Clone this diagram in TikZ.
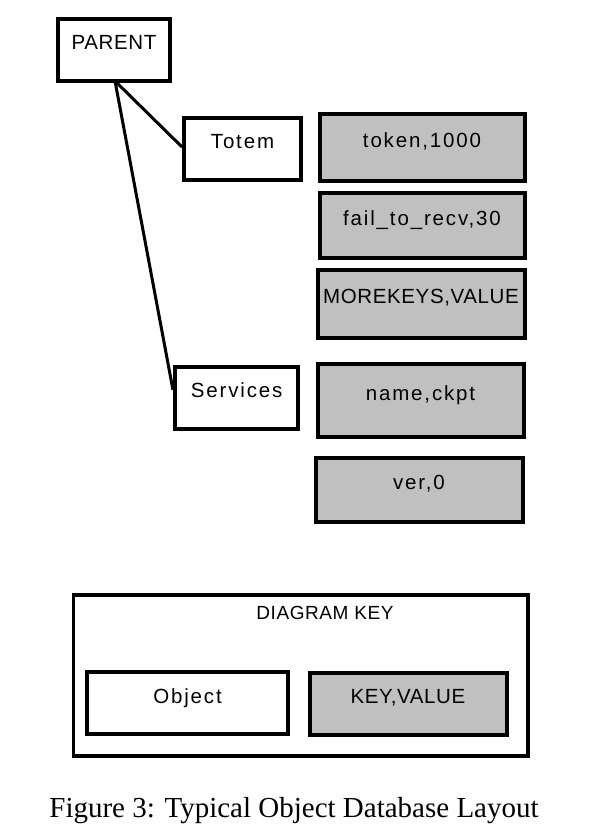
\documentclass[tikz,border=0pt]{standalone}
\usepackage{fontspec}
\setmainfont{Liberation Serif}
\newfontfamily\boxfont[LetterSpace=3]{Liberation Sans}
\newfontfamily\boxfontw[LetterSpace=9]{Liberation Sans}
\definecolor{kvgray}{HTML}{C0C0C0}
\tikzset{
  obj/.style={draw=black, line width=4pt, fill=white, rectangle, inner sep=0pt,
    text height=10pt, text depth=10pt, font=\fontsize{20.5}{22}\selectfont},
  kv/.style={obj, fill=kvgray},
  conn/.style={draw=black, line width=3pt},
}
\begin{document}
\begin{tikzpicture}[x=1pt,y=-1pt]
\useasboundingbox (0,0) rectangle (595,840);
\node[obj, minimum width=112pt, minimum height=62pt] (parent) at (114,50) {\boxfont PARENT};
\node[obj, minimum width=117pt, minimum height=62pt] (totem) at (242.5,149) {\boxfontw Totem};
\node[obj, minimum width=123.5pt, minimum height=61.5pt] (services) at (236.7,397.8) {\boxfontw Services};
\node[kv, minimum width=205pt, minimum height=67pt] (token) at (422,147.5) {\boxfontw token,1000};
\node[kv, minimum width=205pt, minimum height=65pt] (fail) at (422,225) {\boxfontw fail\_to\_recv,30};
\node[kv, minimum width=207pt, minimum height=68pt] (more) at (421,303.5) {\boxfont MOREKEYS,VALUE};
\node[kv, minimum width=206pt, minimum height=73pt] (name) at (420.5,400) {\boxfontw name,ckpt};
\node[kv, minimum width=207pt, minimum height=64pt] (ver) at (419,489.5) {\boxfontw ver,0};
\coordinate (pb) at (115,81);
\draw[conn] (pb) -- ([yshift=2pt]totem.west);
\draw[conn] (pb) -- ([yshift=8pt]services.west);
% key
\node[draw=black, line width=3.5pt, rectangle, minimum width=454.5pt, minimum height=161pt, inner sep=0pt] (keybox) at (300.75,675.5) {};
\node[font=\fontsize{19}{21}\selectfont\boxfont, inner sep=0pt] (keytitle) at (325,613) {DIAGRAM KEY};
\node[obj, minimum width=201pt, minimum height=62pt] (object) at (187.5,703) {\boxfontw Object};
\node[kv, minimum width=197pt, minimum height=62pt] (keyvalue) at (408,703.7) {\boxfont KEY,VALUE};
\node[anchor=base, inner sep=0pt, font=\fontsize{29}{32}\selectfont] (caption) at (294,817) {Figure 3: Typical Object Database Layout};
\end{tikzpicture}
\end{document}
